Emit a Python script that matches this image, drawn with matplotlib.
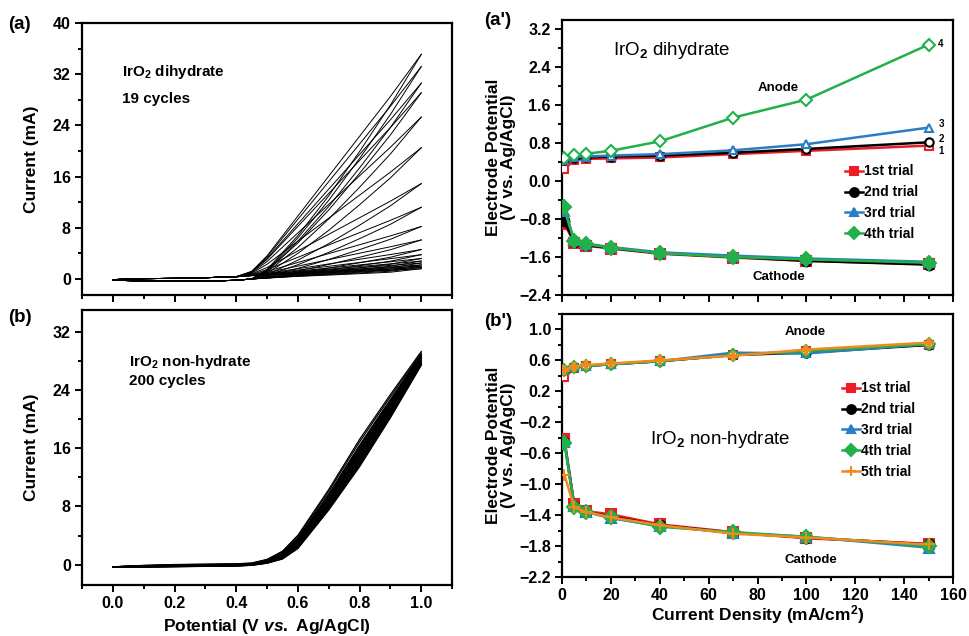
import matplotlib
matplotlib.use("Agg")
import matplotlib.pyplot as plt
from matplotlib.ticker import MultipleLocator, FixedLocator
import numpy as np

plt.rcParams['font.family'] = ['Liberation Sans', 'DejaVu Sans']
plt.rcParams['font.weight'] = 'bold'
plt.rcParams['mathtext.fontset'] = 'custom'
plt.rcParams['mathtext.rm'] = 'Liberation Sans'
plt.rcParams['mathtext.bf'] = 'Liberation Sans:bold'
plt.rcParams['mathtext.it'] = 'Liberation Sans:italic:bold'

# ---- (a) IrO2 dihydrate, 19 CV cycles ----
pot_a = [0.0, 0.1, 0.2, 0.3, 0.4, 0.45, 0.5, 0.6, 0.7, 0.8, 0.9, 1.0]
base_fwd_a = [-0.1, 0.05, 0.1, 0.2, 0.35, 0.5, 0.5, 0.5, 0.5, 0.5, 0.5, 0.5]
base_rev_a = [-0.2, -0.3, -0.35, -0.35, -0.2, 0.0, 0.1, 0.2, 0.2, 0.2, 0.2, 0.5]
shape_fwd_a = [0, 0, 0, 0, 0, 0.02, 0.09, 0.27, 0.45, 0.63, 0.81, 1.0]
shape_rev_a = [0, 0, 0, 0, 0, 0.0, 0.04, 0.19, 0.37, 0.57, 0.78, 1.0]
peaks_a = [34.6, 32.7, 30.1, 28.6, 24.8, 20.0, 14.4, 10.7, 7.7, 5.6, 4.1,
           3.3, 2.7, 2.3, 2.0, 1.7, 1.5, 1.3, 1.1]

# ---- (b) IrO2 non-hydrate, 200 CV cycles ----
pot_b = [0.0, 0.1, 0.2, 0.3, 0.4, 0.45, 0.5, 0.55, 0.6, 0.7, 0.8, 0.9, 1.0]
fwd_b = [-0.3, -0.15, -0.05, 0.0, 0.05, 0.15, 0.6, 1.6, 3.6, 9.6, 16.2, 22.4, 28.5]
rev_b = [-0.3, -0.35, -0.3, -0.25, -0.2, -0.1, 0.2, 0.8, 2.3, 7.8, 14.0, 21.0, 28.5]
# position of each drawn cycle inside the band (1 = forward edge, 0 = reverse edge)
band_w = [1.25, 1.15, 1.0, 0.94, 0.88, 0.82, 0.76, 0.70, 0.64, 0.58, 0.52,
          0.46, 0.40, 0.34, 0.28, 0.22, 0.16, 0.10, 0.05, 0.0]
band_peak = [29.3, 29.1, 28.9, 28.85, 28.8, 28.7, 28.6, 28.5, 28.45, 28.4,
             28.3, 28.2, 28.1, 28.0, 27.9, 27.8, 27.7, 27.6, 27.5, 27.4]

# ---- (a') / (b') potential vs current density ----
density = [1, 5, 10, 20, 40, 70, 100, 150]
trials_a = ['1st trial', '2nd trial', '3rd trial', '4th trial']
anode_a = [
    [0.25, 0.45, 0.47, 0.48, 0.50, 0.57, 0.64, 0.75],
    [0.45, 0.48, 0.50, 0.52, 0.54, 0.60, 0.68, 0.82],
    [0.45, 0.50, 0.52, 0.54, 0.57, 0.65, 0.78, 1.13],
    [0.48, 0.55, 0.58, 0.64, 0.84, 1.34, 1.72, 2.88],
]
cathode_a = [
    [-0.90, -1.30, -1.36, -1.42, -1.53, -1.61, -1.68, -1.75],
    [-0.85, -1.28, -1.35, -1.41, -1.52, -1.60, -1.68, -1.76],
    [-0.62, -1.25, -1.32, -1.39, -1.50, -1.57, -1.63, -1.70],
    [-0.55, -1.26, -1.33, -1.40, -1.52, -1.60, -1.65, -1.72],
]
end_labels_a = ['1', '2', '3', '4']
end_label_y_a = [0.63, 0.88, 1.2, 2.9]

trials_b = ['1st trial', '2nd trial', '3rd trial', '4th trial', '5th trial']
anode_b = [
    [0.38, 0.50, 0.53, 0.55, 0.59, 0.67, 0.72, 0.80],
    [0.47, 0.51, 0.53, 0.55, 0.59, 0.67, 0.70, 0.80],
    [0.47, 0.51, 0.53, 0.55, 0.59, 0.70, 0.69, 0.81],
    [0.47, 0.51, 0.53, 0.55, 0.59, 0.67, 0.72, 0.81],
    [0.48, 0.52, 0.54, 0.56, 0.60, 0.66, 0.74, 0.83],
]
cathode_b = [
    [-0.42, -1.26, -1.35, -1.39, -1.52, -1.62, -1.70, -1.77],
    [-0.45, -1.28, -1.36, -1.42, -1.53, -1.63, -1.69, -1.78],
    [-0.45, -1.28, -1.36, -1.44, -1.54, -1.63, -1.68, -1.82],
    [-0.47, -1.29, -1.36, -1.43, -1.55, -1.62, -1.68, -1.80],
    [-0.88, -1.30, -1.36, -1.43, -1.53, -1.64, -1.69, -1.78],
]
yticks_bp = [-2.2, -1.8, -1.4, -1.0, -0.6, -0.2, 0.2, 0.6, 1.0]

colors = ['#ee1c24', '#000000', '#2a7dc4', '#22b04b', '#f0891e']
markers = ['s', 'o', '^', 'D', 'P']
cath_markers = ['s', 'o', '^', 'D', '+']

TICK = 11.5
LAB = 12.5

fig = plt.figure(figsize=(9.69, 6.36), dpi=100)
ax_a = fig.add_axes([0.0846, 0.5362, 0.382, 0.4277])
ax_b = fig.add_axes([0.0846, 0.0802, 0.382, 0.4324])
ax_c = fig.add_axes([0.58, 0.5362, 0.4035, 0.4324])
ax_d = fig.add_axes([0.58, 0.0928, 0.4035, 0.4135])

for ax in (ax_a, ax_b, ax_c, ax_d):
    for s in ax.spines.values():
        s.set_linewidth(1.6)
    ax.tick_params(which='both', direction='out', top=False, right=False,
                   width=1.4, labelsize=TICK, pad=3)
    ax.tick_params(which='major', length=5)
    ax.tick_params(which='minor', length=3)

# (a)
E = np.array(pot_a)
for pk in peaks_a:
    fwd = np.array(base_fwd_a) + np.array(shape_fwd_a) * pk
    rev = np.array(base_rev_a) + np.array(shape_rev_a) * pk
    ax_a.plot(E, fwd, color='black', lw=0.7)
    ax_a.plot(E, rev, color='black', lw=0.7)
ax_a.set_xlim(-0.1, 1.1)
ax_a.set_ylim(-2.5, 40)
ax_a.xaxis.set_major_locator(MultipleLocator(0.2))
ax_a.xaxis.set_minor_locator(MultipleLocator(0.1))
ax_a.yaxis.set_major_locator(MultipleLocator(8))
ax_a.yaxis.set_minor_locator(MultipleLocator(4))
ax_a.set_xticklabels([])
ax_a.set_ylabel('Current (mA)', fontsize=LAB, fontweight='bold', labelpad=10)
ax_a.text(0.108, 0.82, r'IrO$_\mathbf{2}$ dihydrate', transform=ax_a.transAxes,
          fontsize=11, va='center')
ax_a.text(0.108, 0.72, '19 cycles', transform=ax_a.transAxes,
          fontsize=11, va='center')

# (b)
E = np.array(pot_b)
F = np.array(fwd_b)
R = np.array(rev_b)
for w, pk in zip(band_w, band_peak):
    trace = (w * F + (1 - w) * R) * pk / fwd_b[-1]
    ax_b.plot(E, trace, color='black', lw=0.9)
ax_b.set_xlim(-0.1, 1.1)
ax_b.set_ylim(-2.8, 35)
ax_b.xaxis.set_major_locator(MultipleLocator(0.2))
ax_b.xaxis.set_minor_locator(MultipleLocator(0.1))
ax_b.yaxis.set_major_locator(MultipleLocator(8))
ax_b.yaxis.set_minor_locator(MultipleLocator(4))
ax_b.xaxis.set_major_formatter('{x:.1f}')
ax_b.set_ylabel('Current (mA)', fontsize=LAB, fontweight='bold', labelpad=10)
ax_b.set_xlabel(r'Potential (V $\it{vs.}$ Ag/AgCl)', fontsize=LAB,
                fontweight='bold', labelpad=4)
ax_b.text(0.127, 0.81, r'IrO$_\mathbf{2}$ non-hydrate', transform=ax_b.transAxes,
          fontsize=11, va='center')
ax_b.text(0.127, 0.74, '200 cycles', transform=ax_b.transAxes,
          fontsize=11, va='center')


def draw_trials(ax, anodes, cathodes, labels):
    for i, (an, ca, lab) in enumerate(zip(anodes, cathodes, labels)):
        c = colors[i]
        ax.plot(density, an, color=c, lw=1.8, marker=markers[i], ms=6,
                mfc='white', mec=c, mew=1.5, zorder=3 + i)
        cm_ = cath_markers[i]
        ax.plot(density, ca, color=c, lw=1.8, marker=cm_,
                ms=7 if cm_ != '+' else 8,
                mfc=c, mec=c, mew=1.5, zorder=3 + i, label=lab)
    ax.legend(frameon=False, fontsize=10, handlelength=1.3,
              handletextpad=0.1, labelspacing=0.5, borderpad=0,
              loc='upper left', markerscale=0.9)


# (a')
draw_trials(ax_c, anode_a, cathode_a, trials_a)
ax_c.get_legend().set_bbox_to_anchor((0.706, 0.50), transform=ax_c.transAxes)
ax_c.set_xlim(0, 160)
ax_c.set_ylim(-2.4, 3.4)
ax_c.xaxis.set_major_locator(MultipleLocator(20))
ax_c.xaxis.set_minor_locator(MultipleLocator(10))
ax_c.yaxis.set_major_locator(MultipleLocator(0.8))
ax_c.yaxis.set_minor_locator(MultipleLocator(0.4))
ax_c.yaxis.set_major_formatter('{x:.1f}')
ax_c.set_xticklabels([])
ax_c.set_ylabel('Electrode Potential\n(V vs. Ag/AgCl)', fontsize=LAB,
                fontweight='bold', linespacing=1.0, labelpad=2)
for lab, yy in zip(end_labels_a, end_label_y_a):
    ax_c.text(154, yy, lab, fontsize=7, va='center')
ax_c.text(21, 2.76, r'IrO$_\mathrm{2}$ dihydrate', fontsize=13.5,
          fontweight='normal', va='center')
ax_c.text(80, 1.96, 'Anode', fontsize=9.5, va='center')
ax_c.text(78, -2.02, 'Cathode', fontsize=9.5, va='center')

# (b')
draw_trials(ax_d, anode_b, cathode_b, trials_b)
ax_d.get_legend().set_bbox_to_anchor((0.698, 0.77), transform=ax_d.transAxes)
ax_d.set_xlim(0, 160)
ax_d.set_ylim(-2.2, 1.2)
ax_d.xaxis.set_major_locator(MultipleLocator(20))
ax_d.xaxis.set_minor_locator(MultipleLocator(10))
ax_d.yaxis.set_major_locator(FixedLocator(yticks_bp))
ax_d.yaxis.set_minor_locator(MultipleLocator(0.2))
ax_d.yaxis.set_major_formatter('{x:.1f}')
ax_d.set_ylabel('Electrode Potential\n(V vs. Ag/AgCl)', fontsize=LAB,
                fontweight='bold', linespacing=1.0, labelpad=2)
ax_d.set_xlabel(r'Current Density (mA/cm$^\mathbf{2}$)', fontsize=LAB,
                fontweight='bold', labelpad=0)
ax_d.text(36, -0.42, r'IrO$_\mathrm{2}$ non-hydrate', fontsize=13.5,
          fontweight='normal', va='center')
ax_d.text(91, 0.97, 'Anode', fontsize=9.5, va='center')
ax_d.text(91, -1.98, 'Cathode', fontsize=9.5, va='center')

# panel letters
fig.text(0.008, 0.962, '(a)', fontsize=13.5, va='center')
fig.text(0.008, 0.500, '(b)', fontsize=13.5, va='center')
fig.text(0.500, 0.968, "(a')", fontsize=13.5, va='center')
fig.text(0.500, 0.494, "(b')", fontsize=13.5, va='center')

fig.savefig('out.png', dpi=100)
